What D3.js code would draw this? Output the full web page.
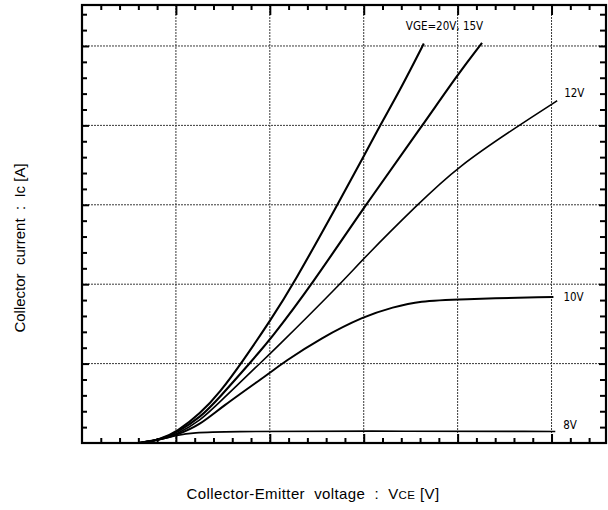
<!DOCTYPE html>
<html>
<head>
<meta charset="utf-8">
<script src="https://cdn.jsdelivr.net/npm/d3@7"></script>
<style>
  html, body { margin: 0; padding: 0; background: #fff; }
  svg { display: block; }
</style>
</head>
<body>
<svg id="chart" width="608" height="510"></svg>
<script>
// Output characteristics: collector current vs. collector-emitter voltage,
// one curve per gate-emitter voltage (axis in major-division units).
const vce20 = [0.60, 0.83, 1.01, 1.26, 1.47, 1.70, 2.01, 2.25, 2.72, 3.01, 3.17, 3.39, 3.64];
const ic20  = [0.00, 0.04, 0.14, 0.37, 0.64, 1.01, 1.55, 2.00, 3.00, 3.63, 3.99, 4.45, 5.03];

const vce15 = [0.60, 0.83, 1.01, 1.26, 1.47, 1.79, 2.01, 2.45, 3.02, 3.62, 4.00, 4.26];
const ic15  = [0.00, 0.04, 0.13, 0.32, 0.58, 1.01, 1.31, 2.00, 3.00, 3.99, 4.64, 5.04];

const vce12 = [0.60, 0.83, 1.01, 1.26, 1.47, 1.90, 2.01, 2.75, 3.01, 3.57, 4.00, 4.64, 5.02, 5.06];
const ic12  = [0.00, 0.04, 0.11, 0.28, 0.52, 1.01, 1.13, 2.00, 2.34, 3.00, 3.48, 3.99, 4.28, 4.31];

const vce10 = [0.60, 0.83, 1.01, 1.26, 1.47, 2.01, 2.14, 2.54, 3.01, 3.31, 3.60, 4.00, 5.02];
const ic10  = [0.00, 0.04, 0.10, 0.23, 0.44, 0.89, 1.01, 1.32, 1.60, 1.71, 1.79, 1.81, 1.84];

const vce8 = [0.60, 0.83, 1.01, 1.20, 1.47, 3.01, 5.04];
const ic8  = [0.00, 0.04, 0.10, 0.13, 0.145, 0.151, 0.145];

const seriesNames = ["VGE=20V, 15V", "15V", "12V", "10V", "8V"];
const xMajorTicks = [1, 2, 3, 4, 5];
const yMajorTicks = [1, 2, 3, 4, 5];
const yTitle = "Collector  current  :  Ic [A]";
const xTitleMain = "Collector-Emitter  voltage  :  V";
const xTitleSub = "CE";
const xTitleUnit = " [V]";

const series = [
  { name: seriesNames[0], vce: vce20, ic: ic20, w: 2.1, label: true, dx: -18, dy: -14 },
  { name: seriesNames[1], vce: vce15, ic: ic15, w: 2.1, label: false },
  { name: seriesNames[2], vce: vce12, ic: ic12, w: 1.6, label: true, dx: 7, dy: -4 },
  { name: seriesNames[3], vce: vce10, ic: ic10, w: 2.0, label: true, dx: 10, dy: 4.5 },
  { name: seriesNames[4], vce: vce8,  ic: ic8,  w: 1.6, label: true, dx: 8, dy: -2.5 }
];

const svg = d3.select("#chart");
svg.append("rect").attr("width", 608).attr("height", 510).attr("fill", "#fff");

const plotL = 82, plotR = 606, plotT = 5, plotB = 443;
const x = d3.scaleLinear().domain([0, 5.58]).range([plotL, plotR]);
const y = d3.scaleLinear().domain([0, 5.516]).range([plotB, plotT]);

const minorX = d3.range(1, 28).map(i => +(i * 0.2).toFixed(1)).filter(v => !xMajorTicks.includes(v));
const minorY = d3.range(1, 28).map(i => +(i * 0.2).toFixed(1)).filter(v => v < 5.5 && !yMajorTicks.includes(v));

// dotted grid
const grid = svg.append("g").attr("stroke", "#3a3a3a").attr("stroke-width", 1)
  .attr("stroke-dasharray", "2,1");
grid.selectAll("line.v").data(xMajorTicks).join("line").attr("class", "v")
  .attr("x1", d => x(d)).attr("x2", d => x(d)).attr("y1", plotT).attr("y2", plotB);
grid.selectAll("line.h").data(yMajorTicks).join("line").attr("class", "h")
  .attr("y1", d => y(d)).attr("y2", d => y(d)).attr("x1", plotL).attr("x2", plotR);

// inward ticks on all four sides
function tickAxis(axisFn, scale, vals, size, transform) {
  const g = svg.append("g").attr("transform", transform)
    .call(axisFn(scale).tickValues(vals).tickSize(size).tickFormat(""));
  g.select(".domain").remove();
  g.selectAll(".tick line").attr("stroke", "#000").attr("stroke-width", 2);
}
tickAxis(d3.axisBottom, x, minorX, -5, `translate(0,${plotB})`);
tickAxis(d3.axisBottom, x, xMajorTicks, -9, `translate(0,${plotB})`);
tickAxis(d3.axisTop, x, minorX, -5, `translate(0,${plotT})`);
tickAxis(d3.axisTop, x, xMajorTicks, -10, `translate(0,${plotT})`);
tickAxis(d3.axisLeft, y, minorY, -5, `translate(${plotL},0)`);
tickAxis(d3.axisLeft, y, yMajorTicks, -7, `translate(${plotL},0)`);
tickAxis(d3.axisRight, y, minorY, -6, `translate(${plotR},0)`);
tickAxis(d3.axisRight, y, yMajorTicks, -7, `translate(${plotR},0)`);

// frame
svg.append("rect").attr("x", plotL).attr("y", plotT)
  .attr("width", plotR - plotL).attr("height", plotB - plotT)
  .attr("fill", "none").attr("stroke", "#000").attr("stroke-width", 2.2);

// curves (B-spline through the read-off points keeps them smooth)
const line = d3.line().x(d => x(d[0])).y(d => y(d[1])).curve(d3.curveBasis);
series.forEach(s => {
  const pts = s.vce.map((v, i) => [v, s.ic[i]]);
  svg.append("path").datum(pts).attr("d", line)
    .attr("fill", "none").attr("stroke", "#000").attr("stroke-width", s.w)
    .attr("stroke-linejoin", "round");
  if (s.label) {
    const last = pts[pts.length - 1];
    svg.append("text")
      .attr("x", x(last[0]) + s.dx).attr("y", y(last[1]) + s.dy)
      .attr("font-family", "'DejaVu Sans Condensed', 'DejaVu Sans', sans-serif")
      .attr("font-size", 11.5).attr("fill", "#000")
      .text(s.name);
  }
});

// axis titles
svg.append("text")
  .attr("transform", `translate(24.5,248) rotate(-90)`)
  .attr("text-anchor", "middle")
  .attr("font-family", "'Liberation Sans', Arial, sans-serif")
  .attr("font-size", 15).attr("fill", "#000")
  .style("white-space", "pre")
  .text(yTitle);

const xt = svg.append("text")
  .attr("x", 313).attr("y", 499)
  .attr("text-anchor", "middle")
  .attr("font-family", "'Liberation Sans', Arial, sans-serif")
  .attr("font-size", 15).attr("letter-spacing", 0.4).attr("fill", "#000")
  .style("white-space", "pre");
xt.append("tspan").text(xTitleMain);
xt.append("tspan").attr("font-size", 11.5).text(xTitleSub);
xt.append("tspan").text(xTitleUnit);
</script>
</body>
</html>
